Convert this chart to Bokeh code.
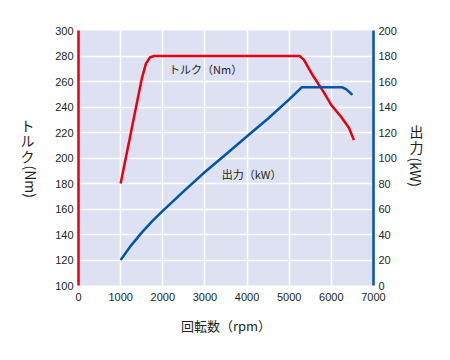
import math
from bokeh.plotting import figure
from bokeh.models import Range1d, LinearAxis, FixedTicker, Label
from bokeh.embed import file_html
from bokeh.resources import INLINE

# ---- data ----
torque_rpm = [1000, 1250, 1500, 1600, 1700, 1800, 5250, 5350, 5450, 5565, 5800, 6000, 6225, 6420, 6535]
torque_nm = [180, 221, 262, 274, 279, 280, 280, 277, 271, 264.5, 252.6, 241.5, 232.5, 223.5, 214]

power_rpm = [1000, 1250, 1500, 1750, 2000, 2500, 3000, 3500, 4000, 4500, 5000, 5300, 6250, 6350, 6500]
power_kw = [20, 31.5, 41.5, 50.5, 58.5, 74, 89, 103, 117, 131, 146, 155.5, 155.5, 154, 149.5]

x_ticks = [0, 1000, 2000, 3000, 4000, 5000, 6000, 7000]
torque_ticks = list(range(100, 301, 20))
power_ticks = list(range(0, 201, 20))

RED = "#e60012"
BLUE = "#0055a5"
TXT = "#231f20"
NUM_FONT = "Liberation Sans"
JP_FONT = "Noto Sans CJK JP"

p = figure(width=442, height=352, output_backend="svg", toolbar_location=None,
           x_range=Range1d(0, 7000), y_range=Range1d(100, 300),
           min_border_left=78, min_border_right=69, min_border_top=30, min_border_bottom=67)
p.extra_y_ranges = {"power": Range1d(0, 200)}
p.background_fill_color = "#dee1f1"
p.border_fill_color = "white"
p.outline_line_color = None

# grids
p.xgrid.ticker = FixedTicker(ticks=x_ticks)
p.ygrid.ticker = FixedTicker(ticks=torque_ticks)
for g in (p.xgrid, p.ygrid):
    g.grid_line_color = "white"
    g.grid_line_width = 1.5

def style_axis(ax, line_color):
    ax.axis_line_color = line_color
    ax.axis_line_width = 2.5
    ax.major_tick_line_color = None
    ax.minor_tick_line_color = None
    ax.major_tick_out = 0
    ax.major_tick_in = 0
    ax.major_label_text_font = NUM_FONT
    ax.major_label_text_font_size = "11px"
    ax.major_label_text_color = TXT
    ax.major_label_standoff = 5

# bottom axis
xa = p.xaxis[0]
style_axis(xa, None)
xa.ticker = FixedTicker(ticks=x_ticks)
xa.major_label_standoff = 7
xa.axis_label = "回転数（rpm）"
xa.axis_label_text_font = JP_FONT
xa.axis_label_text_font_size = "13px"
xa.axis_label_text_font_style = "normal"
xa.axis_label_text_color = TXT
xa.axis_label_standoff = 12

# left axis
ya = p.yaxis[0]
style_axis(ya, RED)
ya.ticker = FixedTicker(ticks=torque_ticks)

# right axis
ra = LinearAxis(y_range_name="power", ticker=FixedTicker(ticks=power_ticks))
style_axis(ra, BLUE)
p.add_layout(ra, "right")

# vertical axis titles, drawn as single tick labels of extra (line-less) axes
def title_axis(side, at, text, standoff, orientation, range_name="default"):
    ax = LinearAxis(y_range_name=range_name, ticker=FixedTicker(ticks=[at]),
                    major_label_overrides={at: text})
    ax.axis_line_color = None
    ax.major_tick_line_color = None
    ax.minor_tick_line_color = None
    ax.major_tick_out = 0
    ax.major_tick_in = 0
    ax.major_label_text_font = JP_FONT
    ax.major_label_text_font_size = "14px"
    ax.major_label_text_color = TXT
    ax.major_label_text_line_height = 0.78
    ax.major_label_standoff = standoff
    ax.major_label_orientation = orientation
    p.add_layout(ax, side)

title_axis("left", 214, "ト\nル\nク", 18, "horizontal")
title_axis("left", 168.6, "(Nm)", -13, -math.pi / 2)
title_axis("right", 115, "出\n力", 10, "horizontal", "power")
title_axis("right", 100.4, "(kW)", -11, -math.pi / 2, "power")

# curves
p.line(torque_rpm, torque_nm, line_color=RED, line_width=2.5, line_join="round")
p.line(power_rpm, power_kw, line_color=BLUE, line_width=2.5, line_join="round",
       y_range_name="power")

# inner labels
p.add_layout(Label(x=2150, y=269.8, text="トルク（Nm）", text_font=JP_FONT,
                   text_font_size="11px", text_color=TXT, text_baseline="middle",
                   text_align="left"))
p.add_layout(Label(x=3400, y=187.5, text="出力（kW）", text_font=JP_FONT,
                   text_font_size="11px", text_color=TXT, text_baseline="middle",
                   text_align="left"))

open("out.html", "w").write(file_html(p, INLINE))
